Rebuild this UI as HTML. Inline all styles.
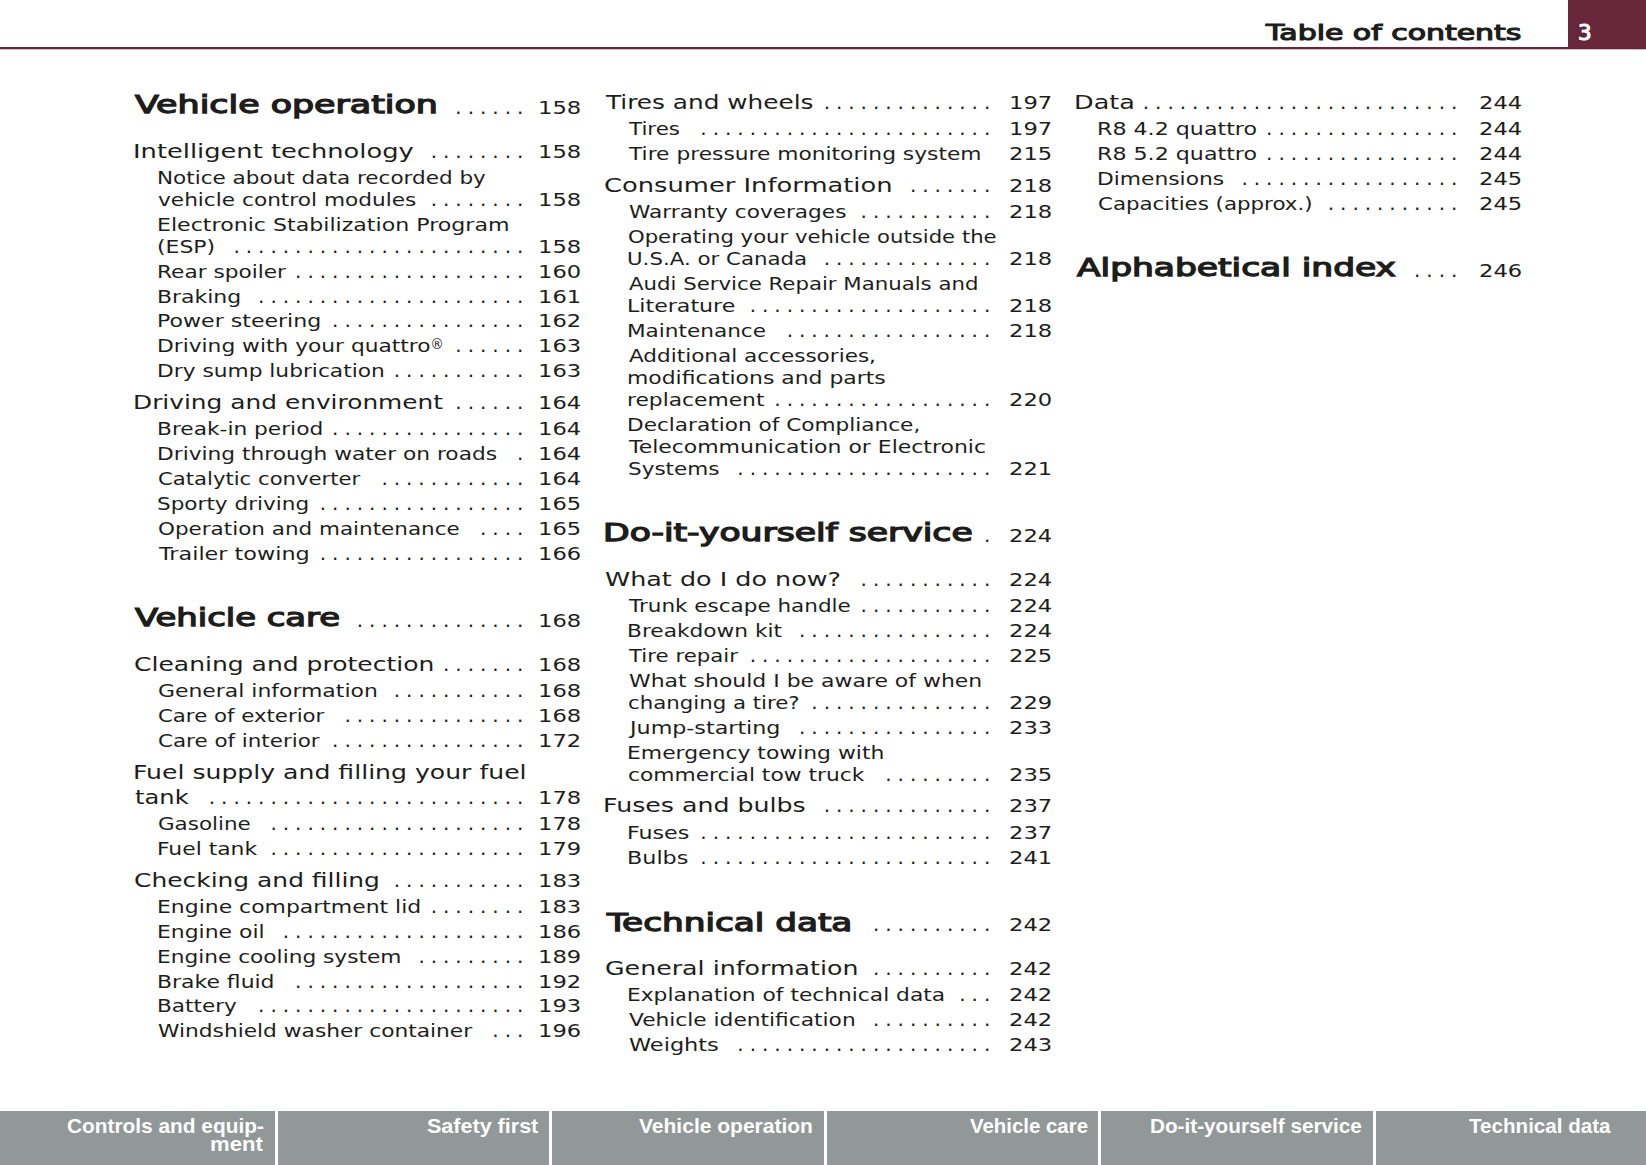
<!DOCTYPE html>
<html lang="en"><head><meta charset="utf-8"><title>Table of contents</title>
<style>
html,body{margin:0;padding:0;background:#fff;overflow:hidden}
#page{position:relative;width:1646px;height:1165px;overflow:hidden;background:#fff;font-family:'DejaVu Sans','Liberation Sans',sans-serif;color:#1d1d1b}
#page span{position:absolute;white-space:nowrap;line-height:1em;transform-origin:0 0}
.h{font-size:24.4px;-webkit-text-stroke:1.25px #1d1d1b}
.a{font-size:19.5px}
.b{font-size:17.5px}
.p{font-size:18.0px}
.d{font-size:20.0px;letter-spacing:5.973px}
#page sup{font-size:.78em;line-height:0;vertical-align:.22em;display:inline-block;transform:scaleX(.8);transform-origin:0 50%;margin-left:-.5px}
.hd,.pn{font-size:21.0px;-webkit-text-stroke:1.1px #1d1d1b}
.pn{color:#fff;-webkit-text-stroke-color:#fff}
#rule{position:absolute;left:0;top:47px;width:1569px;height:2.3px;background:#67263a}
#rule2{position:absolute;left:0;top:49px;width:1646px;height:1px;background:rgba(103,38,58,.3)}
#box{position:absolute;left:1568px;top:0;width:78px;height:49.3px;background:#67263a}
#tabs{position:absolute;left:0;top:1110.8px;width:1646px;height:55px;background:#929897}
#tabs i{position:absolute;top:0;width:3px;height:55px;background:#fff}
.ft{font-family:'Liberation Sans',sans-serif;font-weight:bold;font-size:20.4px;color:#fff}
</style></head><body>
<div id="page">
<header>
<div id="rule"></div><div id="rule2"></div><div id="box"></div>
<span class="hd" style="left:1265.93px;top:23px;transform:scaleX(1.4245)">Table of contents</span>
<span class="pn" style="left:1577.83px;top:23px;transform:scaleX(1.0179)">3</span>
</header>
<main>
<section class="col" id="col1">
<div class="row">
<span class="t h" style="left:135.05px;top:93px;transform:scaleX(1.4282)">Vehicle operation</span>
<span class="d" style="left:455.37px;top:97px">......</span>
<span class="p" style="left:538.01px;top:99px;transform:scaleX(1.2554)">158</span>
</div>
<div class="row">
<span class="t a" style="left:132.69px;top:142px;transform:scaleX(1.3188)">Intelligent technology</span>
<span class="d" style="left:430.71px;top:141px">........</span>
<span class="p" style="left:538.01px;top:143px;transform:scaleX(1.2554)">158</span>
</div>
<div class="row">
<span class="t b" style="left:156.71px;top:170px;transform:scaleX(1.2302)">Notice about data recorded by</span>
</div>
<div class="row">
<span class="t b" style="left:157.68px;top:192px;transform:scaleX(1.2371)">vehicle control modules</span>
<span class="d" style="left:430.71px;top:189px">........</span>
<span class="p" style="left:538.01px;top:191px;transform:scaleX(1.2554)">158</span>
</div>
<div class="row">
<span class="t b" style="left:156.65px;top:217px;transform:scaleX(1.2632)">Electronic Stabilization Program</span>
</div>
<div class="row">
<span class="t b" style="left:156.92px;top:239px;transform:scaleX(1.2544)">(ESP)</span>
<span class="d" style="left:233.43px;top:236px">........................</span>
<span class="p" style="left:538.01px;top:238px;transform:scaleX(1.2554)">158</span>
</div>
<div class="row">
<span class="t b" style="left:156.70px;top:264px;transform:scaleX(1.2375)">Rear spoiler</span>
<span class="d" style="left:295.08px;top:261px">...................</span>
<span class="p" style="left:538.01px;top:263px;transform:scaleX(1.2554)">160</span>
</div>
<div class="row">
<span class="t b" style="left:156.67px;top:289px;transform:scaleX(1.2549)">Braking</span>
<span class="d" style="left:258.09px;top:286px">......................</span>
<span class="p" style="left:538.01px;top:288px;transform:scaleX(1.2554)">161</span>
</div>
<div class="row">
<span class="t b" style="left:156.66px;top:313px;transform:scaleX(1.2611)">Power steering</span>
<span class="d" style="left:332.07px;top:310px">................</span>
<span class="p" style="left:538.01px;top:312px;transform:scaleX(1.2554)">162</span>
</div>
<div class="row">
<span class="t b" style="left:156.69px;top:338px;transform:scaleX(1.2422)">Driving with your quattro<sup>®</sup></span>
<span class="d" style="left:455.37px;top:335px">......</span>
<span class="p" style="left:538.01px;top:337px;transform:scaleX(1.2554)">163</span>
</div>
<div class="row">
<span class="t b" style="left:156.69px;top:363px;transform:scaleX(1.2411)">Dry sump lubrication</span>
<span class="d" style="left:393.72px;top:360px">...........</span>
<span class="p" style="left:538.01px;top:362px;transform:scaleX(1.2554)">163</span>
</div>
<div class="row">
<span class="t a" style="left:132.78px;top:393px;transform:scaleX(1.2739)">Driving and environment</span>
<span class="d" style="left:455.37px;top:392px">......</span>
<span class="p" style="left:538.01px;top:394px;transform:scaleX(1.2554)">164</span>
</div>
<div class="row">
<span class="t b" style="left:156.69px;top:421px;transform:scaleX(1.2400)">Break-in period</span>
<span class="d" style="left:332.07px;top:418px">................</span>
<span class="p" style="left:538.01px;top:420px;transform:scaleX(1.2554)">164</span>
</div>
<div class="row">
<span class="t b" style="left:156.69px;top:446px;transform:scaleX(1.2406)">Driving through water on roads</span>
<span class="d" style="left:517.02px;top:443px">.</span>
<span class="p" style="left:538.01px;top:445px;transform:scaleX(1.2554)">164</span>
</div>
<div class="row">
<span class="t b" style="left:157.71px;top:471px;transform:scaleX(1.2097)">Catalytic converter</span>
<span class="d" style="left:381.39px;top:468px">............</span>
<span class="p" style="left:538.01px;top:470px;transform:scaleX(1.2554)">164</span>
</div>
<div class="row">
<span class="t b" style="left:157.44px;top:496px;transform:scaleX(1.2319)">Sporty driving</span>
<span class="d" style="left:319.74px;top:493px">.................</span>
<span class="p" style="left:538.01px;top:495px;transform:scaleX(1.2554)">165</span>
</div>
<div class="row">
<span class="t b" style="left:157.70px;top:521px;transform:scaleX(1.2274)">Operation and maintenance</span>
<span class="d" style="left:480.03px;top:518px">....</span>
<span class="p" style="left:538.01px;top:520px;transform:scaleX(1.2554)">165</span>
</div>
<div class="row">
<span class="t b" style="left:158.93px;top:546px;transform:scaleX(1.2746)">Trailer towing</span>
<span class="d" style="left:319.74px;top:543px">.................</span>
<span class="p" style="left:538.01px;top:545px;transform:scaleX(1.2554)">166</span>
</div>
<div class="row">
<span class="t h" style="left:135.03px;top:606px;transform:scaleX(1.3868)">Vehicle care</span>
<span class="d" style="left:356.73px;top:610px">..............</span>
<span class="p" style="left:538.01px;top:612px;transform:scaleX(1.2554)">168</span>
</div>
<div class="row">
<span class="t a" style="left:133.92px;top:655px;transform:scaleX(1.2826)">Cleaning and protection</span>
<span class="d" style="left:443.04px;top:654px">.......</span>
<span class="p" style="left:538.01px;top:656px;transform:scaleX(1.2554)">168</span>
</div>
<div class="row">
<span class="t b" style="left:157.67px;top:683px;transform:scaleX(1.2520)">General information</span>
<span class="d" style="left:393.72px;top:680px">...........</span>
<span class="p" style="left:538.01px;top:682px;transform:scaleX(1.2554)">168</span>
</div>
<div class="row">
<span class="t b" style="left:157.71px;top:708px;transform:scaleX(1.2145)">Care of exterior</span>
<span class="d" style="left:344.40px;top:705px">...............</span>
<span class="p" style="left:538.01px;top:707px;transform:scaleX(1.2554)">168</span>
</div>
<div class="row">
<span class="t b" style="left:157.70px;top:733px;transform:scaleX(1.2237)">Care of interior</span>
<span class="d" style="left:332.07px;top:730px">................</span>
<span class="p" style="left:538.01px;top:732px;transform:scaleX(1.2554)">172</span>
</div>
<div class="row">
<span class="t a" style="left:132.75px;top:763px;transform:scaleX(1.2880)">Fuel supply and filling your fuel</span>
</div>
<div class="row">
<span class="t a" style="left:134.58px;top:788px;transform:scaleX(1.2420)">tank</span>
<span class="d" style="left:208.77px;top:787px">..........................</span>
<span class="p" style="left:538.01px;top:789px;transform:scaleX(1.2554)">178</span>
</div>
<div class="row">
<span class="t b" style="left:157.70px;top:816px;transform:scaleX(1.2242)">Gasoline</span>
<span class="d" style="left:270.42px;top:813px">.....................</span>
<span class="p" style="left:538.01px;top:815px;transform:scaleX(1.2554)">178</span>
</div>
<div class="row">
<span class="t b" style="left:156.68px;top:841px;transform:scaleX(1.2476)">Fuel tank</span>
<span class="d" style="left:270.42px;top:838px">.....................</span>
<span class="p" style="left:538.01px;top:840px;transform:scaleX(1.2554)">179</span>
</div>
<div class="row">
<span class="t a" style="left:133.92px;top:871px;transform:scaleX(1.2775)">Checking and filling</span>
<span class="d" style="left:393.72px;top:870px">...........</span>
<span class="p" style="left:538.01px;top:872px;transform:scaleX(1.2554)">183</span>
</div>
<div class="row">
<span class="t b" style="left:156.67px;top:899px;transform:scaleX(1.2524)">Engine compartment lid</span>
<span class="d" style="left:430.71px;top:896px">........</span>
<span class="p" style="left:538.01px;top:898px;transform:scaleX(1.2554)">183</span>
</div>
<div class="row">
<span class="t b" style="left:156.67px;top:924px;transform:scaleX(1.2514)">Engine oil</span>
<span class="d" style="left:282.75px;top:921px">....................</span>
<span class="p" style="left:538.01px;top:923px;transform:scaleX(1.2554)">186</span>
</div>
<div class="row">
<span class="t b" style="left:156.69px;top:949px;transform:scaleX(1.2385)">Engine cooling system</span>
<span class="d" style="left:418.38px;top:946px">.........</span>
<span class="p" style="left:538.01px;top:948px;transform:scaleX(1.2554)">189</span>
</div>
<div class="row">
<span class="t b" style="left:156.67px;top:974px;transform:scaleX(1.2522)">Brake fluid</span>
<span class="d" style="left:295.08px;top:971px">...................</span>
<span class="p" style="left:538.01px;top:973px;transform:scaleX(1.2554)">192</span>
</div>
<div class="row">
<span class="t b" style="left:156.70px;top:998px;transform:scaleX(1.2329)">Battery</span>
<span class="d" style="left:258.09px;top:995px">......................</span>
<span class="p" style="left:538.01px;top:997px;transform:scaleX(1.2554)">193</span>
</div>
<div class="row">
<span class="t b" style="left:158.18px;top:1023px;transform:scaleX(1.2414)">Windshield washer container</span>
<span class="d" style="left:492.36px;top:1020px">...</span>
<span class="p" style="left:538.01px;top:1022px;transform:scaleX(1.2554)">196</span>
</div>
</section>
<section class="col" id="col2">
<div class="row">
<span class="t a" style="left:605.93px;top:93px;transform:scaleX(1.2694)">Tires and wheels</span>
<span class="d" style="left:823.63px;top:92px">..............</span>
<span class="p" style="left:1009.11px;top:94px;transform:scaleX(1.2554)">197</span>
</div>
<div class="row">
<span class="t b" style="left:629.32px;top:121px;transform:scaleX(1.2222)">Tires</span>
<span class="d" style="left:700.33px;top:118px">........................</span>
<span class="p" style="left:1009.11px;top:120px;transform:scaleX(1.2554)">197</span>
</div>
<div class="row">
<span class="t b" style="left:629.32px;top:146px;transform:scaleX(1.2426)">Tire pressure monitoring system</span>
<span class="p" style="left:1009.11px;top:145px;transform:scaleX(1.2554)">215</span>
</div>
<div class="row">
<span class="t a" style="left:604.48px;top:176px;transform:scaleX(1.3207)">Consumer Information</span>
<span class="d" style="left:909.94px;top:175px">.......</span>
<span class="p" style="left:1009.11px;top:177px;transform:scaleX(1.2554)">218</span>
</div>
<div class="row">
<span class="t b" style="left:628.58px;top:204px;transform:scaleX(1.2357)">Warranty coverages</span>
<span class="d" style="left:860.62px;top:201px">...........</span>
<span class="p" style="left:1009.11px;top:203px;transform:scaleX(1.2554)">218</span>
</div>
<div class="row">
<span class="t b" style="left:628.11px;top:229px;transform:scaleX(1.2100)">Operating your vehicle outside the</span>
</div>
<div class="row">
<span class="t b" style="left:627.37px;top:251px;transform:scaleX(1.2184)">U.S.A. or Canada</span>
<span class="d" style="left:823.63px;top:248px">..............</span>
<span class="p" style="left:1009.11px;top:250px;transform:scaleX(1.2554)">218</span>
</div>
<div class="row">
<span class="t b" style="left:629.08px;top:276px;transform:scaleX(1.2150)">Audi Service Repair Manuals and</span>
</div>
<div class="row">
<span class="t b" style="left:627.05px;top:298px;transform:scaleX(1.2644)">Literature</span>
<span class="d" style="left:749.65px;top:295px">....................</span>
<span class="p" style="left:1009.11px;top:297px;transform:scaleX(1.2554)">218</span>
</div>
<div class="row">
<span class="t b" style="left:627.10px;top:323px;transform:scaleX(1.2331)">Maintenance</span>
<span class="d" style="left:786.64px;top:320px">.................</span>
<span class="p" style="left:1009.11px;top:322px;transform:scaleX(1.2554)">218</span>
</div>
<div class="row">
<span class="t b" style="left:629.08px;top:348px;transform:scaleX(1.2312)">Additional accessories,</span>
</div>
<div class="row">
<span class="t b" style="left:627.32px;top:370px;transform:scaleX(1.2510)">modifications and parts</span>
</div>
<div class="row">
<span class="t b" style="left:627.33px;top:392px;transform:scaleX(1.2444)">replacement</span>
<span class="d" style="left:774.31px;top:389px">..................</span>
<span class="p" style="left:1009.11px;top:391px;transform:scaleX(1.2554)">220</span>
</div>
<div class="row">
<span class="t b" style="left:627.10px;top:417px;transform:scaleX(1.2350)">Declaration of Compliance,</span>
</div>
<div class="row">
<span class="t b" style="left:629.33px;top:439px;transform:scaleX(1.2536)">Telecommunication or Electronic</span>
</div>
<div class="row">
<span class="t b" style="left:627.85px;top:461px;transform:scaleX(1.2297)">Systems</span>
<span class="d" style="left:737.32px;top:458px">.....................</span>
<span class="p" style="left:1009.11px;top:460px;transform:scaleX(1.2554)">221</span>
</div>
<div class="row">
<span class="t h" style="left:603.32px;top:521px;transform:scaleX(1.4179)">Do-it-yourself service</span>
<span class="d" style="left:983.92px;top:525px">.</span>
<span class="p" style="left:1009.11px;top:527px;transform:scaleX(1.2554)">224</span>
</div>
<div class="row">
<span class="t a" style="left:605.02px;top:570px;transform:scaleX(1.3042)">What do I do now?</span>
<span class="d" style="left:860.62px;top:569px">...........</span>
<span class="p" style="left:1009.11px;top:571px;transform:scaleX(1.2554)">224</span>
</div>
<div class="row">
<span class="t b" style="left:629.32px;top:598px;transform:scaleX(1.2285)">Trunk escape handle</span>
<span class="d" style="left:860.62px;top:595px">...........</span>
<span class="p" style="left:1009.11px;top:597px;transform:scaleX(1.2554)">224</span>
</div>
<div class="row">
<span class="t b" style="left:627.09px;top:623px;transform:scaleX(1.2396)">Breakdown kit</span>
<span class="d" style="left:798.97px;top:620px">................</span>
<span class="p" style="left:1009.11px;top:622px;transform:scaleX(1.2554)">224</span>
</div>
<div class="row">
<span class="t b" style="left:629.32px;top:648px;transform:scaleX(1.2159)">Tire repair</span>
<span class="d" style="left:749.65px;top:645px">....................</span>
<span class="p" style="left:1009.11px;top:647px;transform:scaleX(1.2554)">225</span>
</div>
<div class="row">
<span class="t b" style="left:628.57px;top:673px;transform:scaleX(1.2531)">What should I be aware of when</span>
</div>
<div class="row">
<span class="t b" style="left:628.11px;top:695px;transform:scaleX(1.2161)">changing a tire?</span>
<span class="d" style="left:811.30px;top:692px">...............</span>
<span class="p" style="left:1009.11px;top:694px;transform:scaleX(1.2554)">229</span>
</div>
<div class="row">
<span class="t b" style="left:630.47px;top:720px;transform:scaleX(1.2691)">Jump-starting</span>
<span class="d" style="left:798.97px;top:717px">................</span>
<span class="p" style="left:1009.11px;top:719px;transform:scaleX(1.2554)">233</span>
</div>
<div class="row">
<span class="t b" style="left:627.08px;top:745px;transform:scaleX(1.2500)">Emergency towing with</span>
</div>
<div class="row">
<span class="t b" style="left:628.08px;top:767px;transform:scaleX(1.2436)">commercial tow truck</span>
<span class="d" style="left:885.28px;top:764px">.........</span>
<span class="p" style="left:1009.11px;top:766px;transform:scaleX(1.2554)">235</span>
</div>
<div class="row">
<span class="t a" style="left:603.34px;top:796px;transform:scaleX(1.2948)">Fuses and bulbs</span>
<span class="d" style="left:823.63px;top:795px">..............</span>
<span class="p" style="left:1009.11px;top:797px;transform:scaleX(1.2554)">237</span>
</div>
<div class="row">
<span class="t b" style="left:627.05px;top:825px;transform:scaleX(1.2660)">Fuses</span>
<span class="d" style="left:700.33px;top:822px">........................</span>
<span class="p" style="left:1009.11px;top:824px;transform:scaleX(1.2554)">237</span>
</div>
<div class="row">
<span class="t b" style="left:627.04px;top:850px;transform:scaleX(1.2722)">Bulbs</span>
<span class="d" style="left:700.33px;top:847px">........................</span>
<span class="p" style="left:1009.11px;top:849px;transform:scaleX(1.2554)">241</span>
</div>
<div class="row">
<span class="t h" style="left:606.72px;top:911px;transform:scaleX(1.4044)">Technical data</span>
<span class="d" style="left:872.95px;top:914px">..........</span>
<span class="p" style="left:1009.11px;top:916px;transform:scaleX(1.2554)">242</span>
</div>
<div class="row">
<span class="t a" style="left:604.50px;top:959px;transform:scaleX(1.2962)">General information</span>
<span class="d" style="left:872.95px;top:958px">..........</span>
<span class="p" style="left:1009.11px;top:960px;transform:scaleX(1.2554)">242</span>
</div>
<div class="row">
<span class="t b" style="left:627.09px;top:987px;transform:scaleX(1.2430)">Explanation of technical data</span>
<span class="d" style="left:959.26px;top:984px">...</span>
<span class="p" style="left:1009.11px;top:986px;transform:scaleX(1.2554)">242</span>
</div>
<div class="row">
<span class="t b" style="left:629.08px;top:1012px;transform:scaleX(1.2413)">Vehicle identification</span>
<span class="d" style="left:872.95px;top:1009px">..........</span>
<span class="p" style="left:1009.11px;top:1011px;transform:scaleX(1.2554)">242</span>
</div>
<div class="row">
<span class="t b" style="left:628.56px;top:1037px;transform:scaleX(1.2811)">Weights</span>
<span class="d" style="left:737.32px;top:1034px">.....................</span>
<span class="p" style="left:1009.11px;top:1036px;transform:scaleX(1.2554)">243</span>
</div>
</section>
<section class="col" id="col3">
<div class="row">
<span class="t a" style="left:1073.72px;top:93px;transform:scaleX(1.3074)">Data</span>
<span class="d" style="left:1142.77px;top:92px">..........................</span>
<span class="p" style="left:1479.41px;top:94px;transform:scaleX(1.2554)">244</span>
</div>
<div class="row">
<span class="t b" style="left:1097.15px;top:121px;transform:scaleX(1.2657)">R8 4.2 quattro</span>
<span class="d" style="left:1266.07px;top:118px">................</span>
<span class="p" style="left:1479.41px;top:120px;transform:scaleX(1.2554)">244</span>
</div>
<div class="row">
<span class="t b" style="left:1097.15px;top:146px;transform:scaleX(1.2657)">R8 5.2 quattro</span>
<span class="d" style="left:1266.07px;top:143px">................</span>
<span class="p" style="left:1479.41px;top:145px;transform:scaleX(1.2554)">244</span>
</div>
<div class="row">
<span class="t b" style="left:1097.18px;top:171px;transform:scaleX(1.2447)">Dimensions</span>
<span class="d" style="left:1241.41px;top:168px">..................</span>
<span class="p" style="left:1479.41px;top:170px;transform:scaleX(1.2554)">245</span>
</div>
<div class="row">
<span class="t b" style="left:1098.20px;top:196px;transform:scaleX(1.2195)">Capacities (approx.)</span>
<span class="d" style="left:1327.72px;top:193px">...........</span>
<span class="p" style="left:1479.41px;top:195px;transform:scaleX(1.2554)">245</span>
</div>
<div class="row">
<span class="t h" style="left:1076.74px;top:256px;transform:scaleX(1.4128)">Alphabetical index</span>
<span class="d" style="left:1414.03px;top:260px">....</span>
<span class="p" style="left:1479.41px;top:262px;transform:scaleX(1.2554)">246</span>
</div>
</section>
</main>
<footer>
<div id="tabs"><i style="left:275.0px"></i><i style="left:549.4px"></i><i style="left:824.0px"></i><i style="left:1098.4px"></i><i style="left:1373.0px"></i></div>
<span class="ft" style="left:66.88px;top:1116px;transform:scaleX(1.0222)">Controls and equip-</span>
<span class="ft" style="left:210.49px;top:1134px;transform:scaleX(1.0837)">ment</span>
<span class="ft" style="left:427.17px;top:1116px;transform:scaleX(1.0559)">Safety first</span>
<span class="ft" style="left:639.00px;top:1116px;transform:scaleX(1.0301)">Vehicle operation</span>
<span class="ft" style="left:969.50px;top:1116px;transform:scaleX(1.0008)">Vehicle care</span>
<span class="ft" style="left:1149.98px;top:1116px;transform:scaleX(1.0162)">Do-it-yourself service</span>
<span class="ft" style="left:1468.50px;top:1116px;transform:scaleX(1.0103)">Technical data</span>
</footer>
</div>
</body></html>
